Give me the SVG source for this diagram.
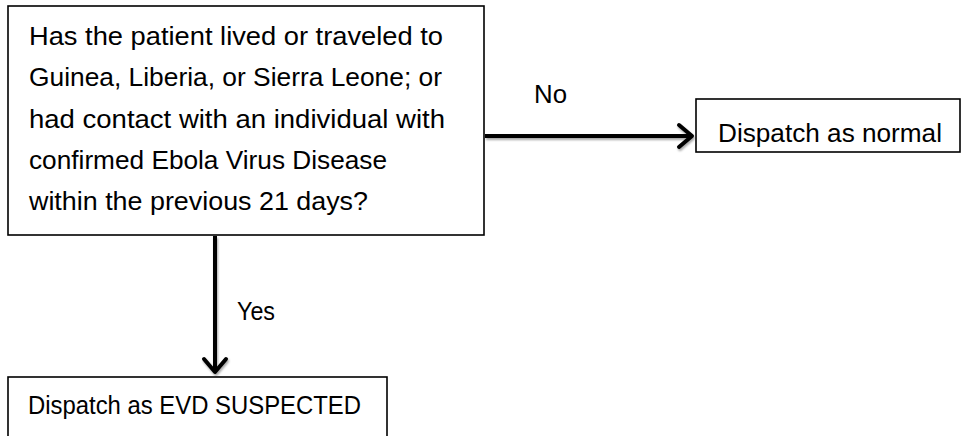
<svg xmlns="http://www.w3.org/2000/svg" width="964" height="436" viewBox="0 0 964 436">
<style>
.box{fill:#fff;stroke:#000;stroke-width:1.6}
.t{font-family:"Liberation Sans",Arial,sans-serif;font-size:25px;fill:#000}
.conn{fill:none;stroke:#000;stroke-width:4}
.head{fill:none;stroke:#000;stroke-width:4;stroke-linecap:round;stroke-linejoin:round}
</style>
<defs>
<filter id="sh" x="-20%" y="-20%" width="140%" height="140%">
<feDropShadow dx="1" dy="2" stdDeviation="1.2" flood-color="#000" flood-opacity="0.35"/>
</filter>
</defs>
<rect width="964" height="436" fill="#fff"/>
<g id="connectors" filter="url(#sh)">
<g id="edge-no">
<line class="conn" x1="485" y1="136" x2="692" y2="136"/>
<polyline class="head" points="679,125 692,136 679,147"/>
</g>
<g id="edge-yes">
<line class="conn" x1="215" y1="236" x2="215" y2="372"/>
<polyline class="head" points="204,359 215,372 226,359"/>
</g>
</g>
<g id="question">
<rect class="box" x="8" y="6" width="476" height="229"/>
<text class="t" x="29" y="45" textLength="414" lengthAdjust="spacingAndGlyphs">Has the patient lived or traveled to</text>
<text class="t" x="29" y="86" textLength="413" lengthAdjust="spacingAndGlyphs">Guinea, Liberia, or Sierra Leone; or</text>
<text class="t" x="29" y="128" textLength="416" lengthAdjust="spacingAndGlyphs">had contact with an individual with</text>
<text class="t" x="29" y="169" textLength="358" lengthAdjust="spacingAndGlyphs">confirmed Ebola Virus Disease</text>
<text class="t" x="29" y="210" textLength="339" lengthAdjust="spacingAndGlyphs">within the previous 21 days?</text>
</g>
<g id="label-no">
<text class="t" x="534" y="103" textLength="33" lengthAdjust="spacingAndGlyphs">No</text>
</g>
<g id="normal">
<rect class="box" x="696" y="99" width="264" height="53"/>
<text class="t" x="718" y="142" textLength="224" lengthAdjust="spacingAndGlyphs">Dispatch as normal</text>
</g>
<g id="label-yes">
<text class="t" x="237" y="320" textLength="38" lengthAdjust="spacingAndGlyphs">Yes</text>
</g>
<g id="suspected">
<rect class="box" x="8" y="377" width="379" height="70"/>
<text class="t" x="28" y="414" textLength="333" lengthAdjust="spacingAndGlyphs">Dispatch as EVD SUSPECTED</text>
</g>
</svg>
